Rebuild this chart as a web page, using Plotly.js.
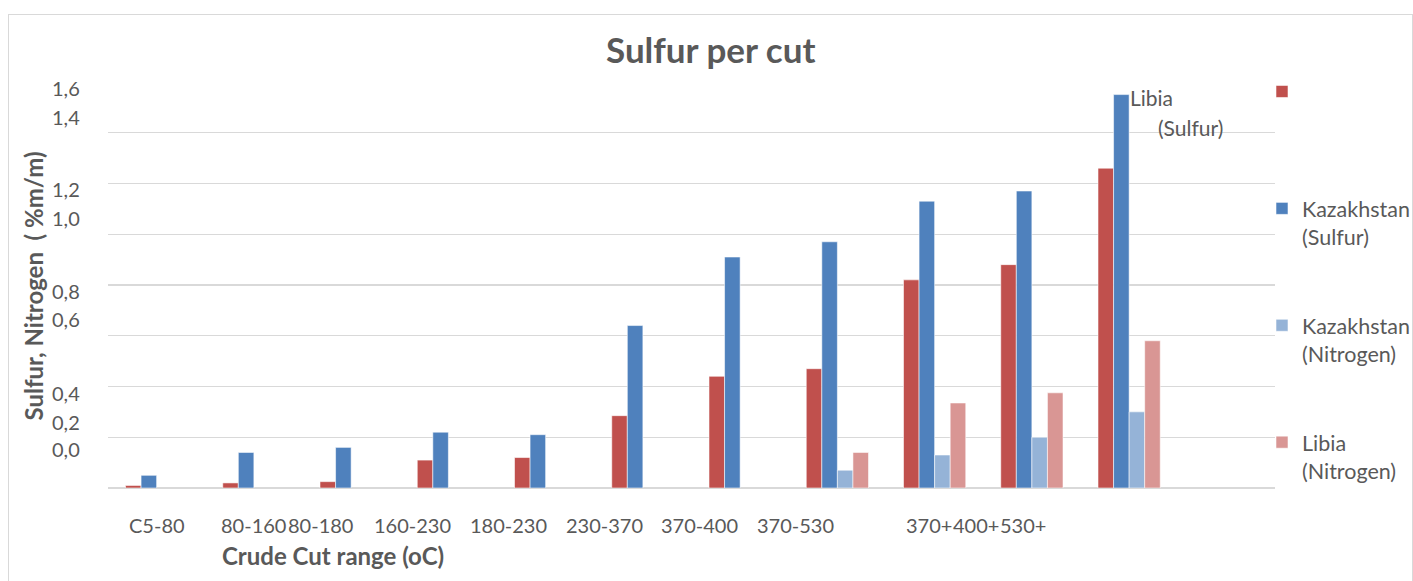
<!DOCTYPE html>
<html>
<head>
<meta charset="utf-8">
<script src="https://cdn.plot.ly/plotly-3.0.1.min.js"></script>
<style>
  html, body { margin: 0; padding: 0; background: #ffffff; }
  #wrap { position: relative; width: 1413px; height: 581px; overflow: hidden; }
  #chart { position: absolute; left: 0; top: 0; width: 1413px; height: 581px; }
  #frame { position: absolute; left: 8px; top: 14px; width: 1403px; height: 600px;
           border: 1px solid #d9d9d9; pointer-events: none; }
</style>
</head>
<body>
<div id="wrap"><div id="chart"></div><div id="frame"></div></div>
<script>
// ---- data ----
const categories = ['C5-80', '80-160', '80-180', '160-230', '180-230', '230-370',
                    '370-400', '370-530', '370+', '400+', '530+'];
const libiaSulfur      = [0.01, 0.02, 0.025, 0.11, 0.12, 0.285, 0.44, 0.47, 0.82, 0.88, 1.26];
const kazakhstanSulfur = [0.05, 0.14, 0.16, 0.22, 0.21, 0.64, 0.91, 0.97, 1.13, 1.17, 1.55];
const kazakhstanNitrogen = [null, null, null, null, null, null, null, 0.07, 0.13, 0.20, 0.30];
const libiaNitrogen      = [null, null, null, null, null, null, null, 0.14, 0.335, 0.375, 0.58];
const seriesNames = ['Libia (Sulfur)', 'Kazakhstan (Sulfur)', 'Kazakhstan (Nitrogen)', 'Libia (Nitrogen)'];
const yTickText = ['1,6', '1,4', '1,2', '1,0', '0,8', '0,6', '0,4', '0,2', '0,0'];

// ---- layout helpers (label placement as in the reference picture) ----
const xLabelAt = [0, 0.996, 1.685, 2.631, 3.618, 4.605, 5.582, 6.569, 7.947, 8.43, 8.905];
const yLabelAt = [1.576, 1.462, 1.178, 1.064, 0.776, 0.666, 0.374, 0.260, 0.154];

const txt = '#595959';
const font = 'Lato, "Open Sans", sans-serif';
const colors = ['#C0504D', '#4F81BD', '#95B3D7', '#D99694'];
const legendNames = [' <br> ', 'Kazakhstan<br>(Sulfur)', 'Kazakhstan<br>(Nitrogen)', 'Libia<br>(Nitrogen)'];
const values = [libiaSulfur, kazakhstanSulfur, kazakhstanNitrogen, libiaNitrogen];

const traces = values.map((v, i) => ({
  type: 'bar',
  x: categories,
  y: v,
  name: legendNames[i],
  hovertext: seriesNames[i],
  legendgroup: 'g' + i,
  marker: { color: colors[i], line: { color: 'rgba(255,255,255,0.55)', width: 1 } }
}));

const W = 1413, H = 581, L = 107.5, T = 81, PW = 1167.5, PH = 407;
const px = (x) => (x - L) / PW;   // pixel -> paper x
const py = (y) => (T + PH - y) / PH; // pixel -> paper y

const annotations = [];
categories.forEach((c, i) => {
  annotations.push({
    xref: 'x', yref: 'paper', x: xLabelAt[i], y: 0, yshift: -37,
    text: c, showarrow: false, xanchor: 'center', yanchor: 'middle',
    font: { family: font, size: 20, color: txt }
  });
});
yTickText.forEach((t, i) => {
  annotations.push({
    xref: 'paper', yref: 'y', x: 0, y: yLabelAt[i], xshift: -26,
    text: t, showarrow: false, xanchor: 'right', yanchor: 'middle',
    font: { family: font, size: 20, color: txt }
  });
});
annotations.push({
  xref: 'paper', yref: 'paper', x: px(333), y: py(555),
  text: '<b>Crude Cut range (oC)</b>', showarrow: false, xanchor: 'center', yanchor: 'middle',
  font: { family: font, size: 24, color: txt }
});
annotations.push({
  xref: 'paper', yref: 'paper', x: px(32), y: py(286), textangle: -90,
  text: '<b>Sulfur, Nitrogen  ( %m/m)</b>', showarrow: false, xanchor: 'center', yanchor: 'middle',
  font: { family: font, size: 24, color: txt }
});
annotations.push({
  xref: 'paper', yref: 'paper', x: px(1128), y: py(97),
  text: 'Libia', showarrow: false, xanchor: 'left', yanchor: 'middle',
  font: { family: font, size: 21, color: txt }
});
annotations.push({
  xref: 'paper', yref: 'paper', x: px(1156), y: py(127),
  text: '(Sulfur)', showarrow: false, xanchor: 'left', yanchor: 'middle',
  font: { family: font, size: 21, color: txt }
});

const layout = {
  width: W, height: H,
  margin: { l: L, r: W - L - PW, t: T, b: H - T - PH, pad: 0, autoexpand: false },
  paper_bgcolor: '#ffffff', plot_bgcolor: '#ffffff',
  font: { family: font, color: txt },
  title: { text: '<b>Sulfur per cut</b>', x: 0.503, xanchor: 'center', y: 0.913, yanchor: 'middle',
           font: { family: font, size: 35, color: txt } },
  barmode: 'group', bargap: 0.36, bargroupgap: 0,
  xaxis: { type: 'category', range: [-0.5, 11.5], showticklabels: false, ticks: '',
           showgrid: false, zeroline: false, showline: false },
  yaxis: { range: [0, 1.6035], tick0: 0, dtick: 0.2, showticklabels: false, ticks: '',
           showgrid: true, gridcolor: '#d9d9d9', gridwidth: 1.3,
           zeroline: true, zerolinecolor: '#d9d9d9', zerolinewidth: 1.3, showline: false },
  legend: { x: 1262 / W, xref: 'container', y: (H - 71) / H, yref: 'container',
            xanchor: 'left', yanchor: 'top', maxheight: 560,
            traceorder: 'grouped', tracegroupgap: 58, valign: 'top',
            font: { family: font, size: 21.5, color: txt }, bgcolor: 'rgba(0,0,0,0)' },
  annotations: annotations,
  showlegend: true
};

Plotly.newPlot('chart', traces, layout, { displayModeBar: false, staticPlot: true });
</script>
</body>
</html>
